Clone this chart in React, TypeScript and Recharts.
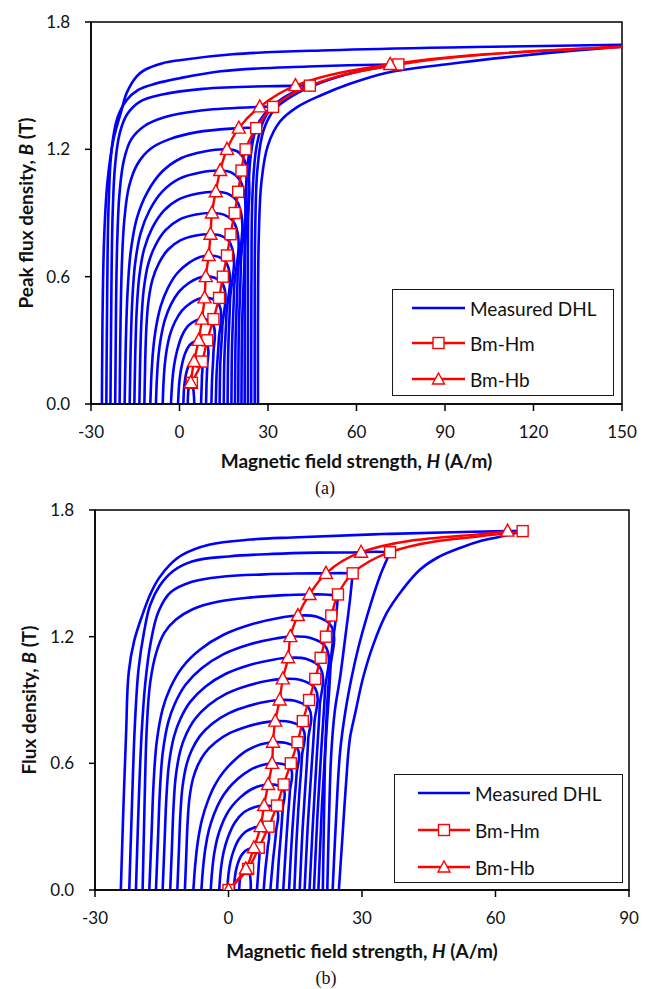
import React from 'react';
import { LineChart, Line, XAxis, YAxis, ReferenceArea } from 'recharts';

// peak flux density levels of the loops
const bmA = [0.1, 0.2, 0.3, 0.4, 0.5, 0.6, 0.7, 0.8, 0.9, 1.0, 1.1, 1.2, 1.3, 1.4, 1.5, 1.6, 1.7];
const hmA = [4.2, 7.6, 9.4, 11.5, 13.4, 14.7, 16.1, 17.3, 18.7, 19.9, 21.0, 22.4, 26.0, 31.7, 44.2, 74.2, 172];
const hbA = [3.8, 4.9, 6.5, 7.6, 8.5, 8.9, 9.9, 10.5, 11.0, 12.3, 13.8, 16.1, 20.1, 27.2, 39.3, 71.4, 168];

const bmB = [0, 0.1, 0.2, 0.3, 0.4, 0.5, 0.6, 0.7, 0.8, 0.9, 1.0, 1.1, 1.2, 1.3, 1.4, 1.5, 1.6, 1.7];
const hmB = [0, 4.4, 6.8, 9.0, 10.9, 12.4, 14.0, 15.5, 16.7, 18.1, 19.5, 20.7, 21.9, 23.1, 24.6, 27.9, 36.3, 66.1];
const hbB = [0, 3.9, 5.7, 7.2, 8.0, 8.9, 9.8, 10.0, 10.5, 11.5, 12.2, 13.4, 13.9, 15.6, 18.2, 21.9, 29.8, 62.7];

const xTicksA = [-30, 0, 30, 60, 90, 120, 150];
const xTicksB = [-30, 0, 30, 60, 90];
const yTicks = [0, 0.6, 1.2, 1.8];

// measured loops (upper half), [H, B]
const dhlA: number[][][] = [
  [[2.8,0],[2.85,0.03],[2.95,0.055],[3.1,0.075],[3.35,0.09],[3.6,0.098],[3.8,0.1],[4.05,0.098],[4.5,0.085],[4.8,0.055],[4.95,0.025],[5.0,0]],
  [[1.3,0],[1.44,0.05],[1.66,0.09],[2.0,0.126],[2.55,0.16],[3.3,0.184],[4.1,0.196],[4.9,0.2],[6.4,0.197],[7.5,0.186],[7.6,0.13],[7.45,0.06],[7.3,0]],
  [[-0.5,0],[-0.22,0.075],[0.2,0.135],[0.9,0.189],[1.95,0.24],[3.35,0.276],[4.96,0.294],[6.5,0.3],[8.1,0.296],[9.4,0.28],[9.4,0.18],[9.15,0.09],[9.0,0]],
  [[-2.9,0],[-2.48,0.1],[-1.85,0.18],[-0.8,0.252],[0.78,0.32],[2.88,0.368],[5.29,0.392],[7.6,0.4],[9.7,0.395],[11.4,0.375],[11.5,0.24],[11.05,0.12],[10.8,0]],
  [[-5.7,0],[-5.42,0.1],[-4.99,0.185],[-4.28,0.26],[-3.14,0.33],[-1.44,0.39],[0.83,0.44],[3.67,0.475],[6.37,0.495],[8.5,0.5],[11.2,0.495],[13.4,0.47],[13.3,0.3],[12.6,0.15],[12.3,0]],
  [[-8.0,0],[-7.66,0.12],[-7.16,0.222],[-6.31,0.312],[-4.96,0.396],[-2.93,0.468],[-0.23,0.528],[3.15,0.57],[6.37,0.594],[8.9,0.6],[12.1,0.594],[14.7,0.565],[14.5,0.36],[13.8,0.18],[13.6,0]],
  [[-9.9,0],[-9.5,0.14],[-8.91,0.259],[-7.92,0.364],[-6.34,0.462],[-3.96,0.546],[-0.79,0.616],[3.17,0.665],[6.93,0.693],[9.9,0.7],[13.3,0.693],[16.1,0.66],[15.9,0.42],[15.2,0.21],[15.0,0]],
  [[-11.9,0],[-11.63,0.2],[-11.23,0.36],[-10.56,0.48],[-9.21,0.584],[-6.97,0.664],[-3.84,0.728],[0.42,0.772],[5.57,0.794],[10.5,0.8],[14.2,0.792],[17.3,0.755],[17.1,0.48],[16.5,0.24],[16.3,0]],
  [[-13.6,0],[-13.3,0.225],[-12.86,0.405],[-12.12,0.54],[-10.65,0.657],[-8.19,0.747],[-4.74,0.819],[-0.07,0.869],[5.59,0.893],[11.0,0.9],[15.2,0.891],[18.7,0.85],[18.5,0.54],[17.8,0.27],[17.6,0]],
  [[-15.3,0],[-14.97,0.25],[-14.47,0.45],[-13.64,0.6],[-11.99,0.73],[-9.23,0.83],[-5.36,0.91],[-0.12,0.965],[6.23,0.992],[12.3,1.0],[16.5,0.99],[19.9,0.945],[19.7,0.6],[19.0,0.3],[18.8,0]],
  [[-16.9,0],[-16.53,0.275],[-15.98,0.495],[-15.06,0.66],[-13.22,0.803],[-10.15,0.913],[-5.85,1.001],[-0.01,1.062],[7.05,1.091],[13.8,1.1],[17.8,1.089],[21.0,1.04],[20.8,0.66],[20.1,0.33],[19.9,0]],
  [[-18.6,0],[-18.18,0.3],[-17.56,0.54],[-16.52,0.72],[-14.44,0.876],[-10.97,0.996],[-6.11,1.092],[0.49,1.158],[8.47,1.19],[16.1,1.2],[19.6,1.19],[22.4,1.135],[22.1,0.72],[21.2,0.36],[21.0,0]],
  [[-20.3,0],[-19.98,0.39],[-19.49,0.676],[-18.68,0.871],[-17.07,1.027],[-14.24,1.131],[-9.8,1.203],[-3.33,1.248],[5.96,1.281],[20.1,1.3],[23,1.302],[26.0,1.3],[24.5,1.24],[23.0,1.12],[22.4,0.9],[22.15,0.5],[22.1,0]],
  [[-21.8,0],[-21.51,0.462],[-21.07,0.784],[-20.33,0.994],[-18.86,1.148],[-16.41,1.246],[-12.0,1.309],[-5.14,1.351],[6.62,1.382],[27.2,1.4],[29.5,1.401],[31.7,1.398],[29,1.37],[26,1.3],[24,1.15],[23.3,0.9],[23.2,0.5],[23.2,0]],
  [[-23.4,0],[-23.09,0.525],[-22.65,0.9],[-21.83,1.125],[-20.27,1.275],[-17.76,1.365],[-13.37,1.425],[-5.84,1.458],[7.95,1.485],[39.3,1.5],[42,1.501],[44.2,1.5],[38,1.465],[33,1.42],[29,1.35],[26.2,1.22],[24.8,1.0],[24.4,0.6],[24.3,0]],
  [[-24.8,0],[-24.5,0.55],[-24.0,0.95],[-23.0,1.2],[-21.0,1.35],[-18,1.43],[-14,1.48],[-8,1.51],[0,1.535],[14,1.568],[43.5,1.59],[71.4,1.6],[74.2,1.6],[60,1.565],[48,1.515],[38,1.45],[32,1.385],[28.5,1.29],[26.5,1.12],[25.7,0.85],[25.5,0.45],[25.5,0]],
  [[-26.3,0],[-26.1,0.4],[-25.5,0.8],[-24.4,1.05],[-22.4,1.245],[-19.6,1.387],[-17.9,1.466],[-14.5,1.544],[-11.7,1.575],[-6,1.605],[0,1.62],[18,1.648],[51,1.667],[100,1.682],[150,1.693],[172,1.7],[150,1.684],[115,1.64],[90,1.6],[70,1.56],[58,1.51],[48,1.455],[40,1.4],[34,1.33],[30,1.22],[27.8,1.05],[26.9,0.8],[26.6,0.4],[26.6,0]],
];

const dhlB: number[][][] = [
  [[2.4,0],[2.46,0.025],[2.55,0.045],[2.7,0.063],[2.93,0.08],[3.23,0.092],[3.57,0.098],[3.9,0.1],[4.2,0.099],[4.6,0.09],[4.9,0.06],[5.0,0.03],[5.0,0]],
  [[1.2,0],[1.38,0.05],[1.65,0.09],[2.1,0.126],[2.78,0.16],[3.68,0.184],[4.71,0.196],[5.7,0.2],[6.3,0.198],[6.8,0.185],[6.8,0.12],[6.6,0.06],[6.4,0]],
  [[-0.3,0],[0.0,0.075],[0.45,0.135],[1.2,0.189],[2.33,0.24],[3.83,0.276],[5.55,0.294],[7.2,0.3],[8.2,0.298],[9.0,0.28],[8.8,0.2],[8.3,0.1],[7.9,0]],
  [[-2.1,0],[-1.7,0.1],[-1.09,0.18],[-0.08,0.252],[1.44,0.32],[3.46,0.368],[5.78,0.392],[8.0,0.4],[9.6,0.397],[10.9,0.38],[10.7,0.28],[10.0,0.14],[9.4,0]],
  [[-4.0,0],[-3.68,0.09],[-3.23,0.17],[-2.58,0.24],[-1.68,0.3],[-0.52,0.355],[0.9,0.4],[2.71,0.44],[4.77,0.4725],[6.97,0.4925],[8.9,0.5],[10.8,0.497],[12.4,0.478],[12.2,0.39],[11.8,0.27],[11.3,0.14],[10.9,0]],
  [[-6.1,0],[-5.7,0.108],[-5.15,0.204],[-4.35,0.288],[-3.24,0.36],[-1.81,0.426],[-0.06,0.48],[2.17,0.528],[4.71,0.567],[7.42,0.591],[9.8,0.6],[12.1,0.597],[14.0,0.575],[13.8,0.47],[13.3,0.33],[12.8,0.17],[12.3,0]],
  [[-7.9,0],[-7.45,0.126],[-6.83,0.238],[-5.93,0.336],[-4.68,0.42],[-3.07,0.497],[-1.1,0.56],[1.41,0.616],[4.27,0.662],[7.32,0.69],[10.0,0.7],[13.0,0.696],[15.5,0.67],[15.3,0.55],[14.7,0.39],[14.1,0.2],[13.6,0]],
  [[-9.8,0],[-9.5,0.16],[-9.19,0.32],[-8.79,0.432],[-7.97,0.528],[-6.96,0.588],[-5.33,0.648],[-2.9,0.7],[0.35,0.744],[4.41,0.776],[8.06,0.794],[10.5,0.8],[13.9,0.796],[16.7,0.765],[16.5,0.63],[15.9,0.45],[15.3,0.24],[14.8,0]],
  [[-11.5,0],[-11.16,0.18],[-10.81,0.36],[-10.35,0.486],[-9.43,0.594],[-8.28,0.662],[-6.44,0.729],[-3.68,0.788],[0,0.837],[4.6,0.873],[8.74,0.893],[11.5,0.9],[15.1,0.895],[18.1,0.86],[17.9,0.71],[17.3,0.5],[16.6,0.27],[16.0,0]],
  [[-13.1,0],[-12.72,0.2],[-12.34,0.4],[-11.84,0.54],[-10.82,0.66],[-9.56,0.735],[-7.53,0.81],[-4.5,0.875],[-0.45,0.93],[4.61,0.97],[9.16,0.992],[12.2,1.0],[16.2,0.995],[19.5,0.955],[19.3,0.79],[18.6,0.56],[17.8,0.3],[17.1,0]],
  [[-14.8,0],[-14.38,0.22],[-13.95,0.44],[-13.39,0.594],[-12.26,0.726],[-10.85,0.809],[-8.6,0.891],[-5.21,0.963],[-0.7,1.023],[4.94,1.067],[10.02,1.091],[13.4,1.1],[17.4,1.095],[20.7,1.05],[20.5,0.87],[19.8,0.62],[19.0,0.33],[18.2,0]],
  [[-16.3,0],[-15.85,0.24],[-15.39,0.48],[-14.79,0.648],[-13.58,0.792],[-12.07,0.882],[-9.66,0.972],[-6.03,1.05],[-1.2,1.116],[4.84,1.164],[10.28,1.19],[13.9,1.2],[18.3,1.195],[21.9,1.15],[21.7,0.95],[20.9,0.68],[20.0,0.36],[19.2,0]],
  [[-17.8,0],[-17.3,0.26],[-16.8,0.52],[-16.13,0.702],[-14.79,0.858],[-13.12,0.956],[-10.45,1.053],[-6.44,1.138],[-1.1,1.209],[5.58,1.261],[11.59,1.29],[15.6,1.3],[19.7,1.295],[23.1,1.25],[22.9,1.05],[22.0,0.75],[21.0,0.4],[20.2,0]],
  [[-19.3,0],[-18.85,0.42],[-18.36,0.77],[-17.61,0.98],[-16.3,1.12],[-14.43,1.218],[-11.8,1.281],[-8.05,1.33],[-2.43,1.365],[5.08,1.386],[12.58,1.397],[18.2,1.4],[21.5,1.4],[24.6,1.395],[24.2,1.3],[23.3,1.15],[22.4,0.95],[21.8,0.7],[21.5,0.4],[21.2,0]],
  [[-20.8,0],[-20.2,0.4],[-19.5,0.75],[-18.7,0.98],[-17.5,1.17],[-15.7,1.32],[-13,1.41],[-8.2,1.46],[-1,1.485],[8,1.495],[15,1.499],[21.9,1.5],[25,1.501],[27.9,1.5],[27.3,1.375],[26.2,1.19],[25.1,1.01],[23.9,0.85],[23.1,0.65],[22.6,0.35],[22.2,0]],
  [[-22.3,0],[-21.7,0.4],[-21.0,0.8],[-20.2,1.05],[-19,1.22],[-17.6,1.35],[-15.5,1.44],[-12.5,1.51],[-8.2,1.556],[0,1.58],[10,1.592],[20,1.598],[29.8,1.6],[33,1.602],[36.3,1.6],[34,1.485],[31.1,1.295],[29.2,1.15],[27.7,1.01],[26.3,0.85],[25.1,0.66],[24.2,0.35],[23.4,0]],
  [[-24.2,0],[-23.6,0.4],[-23.0,0.75],[-22.4,1.035],[-21.2,1.18],[-19.4,1.3],[-17.6,1.4],[-15.7,1.475],[-13.2,1.54],[-10.4,1.587],[-4.4,1.635],[5,1.66],[14.3,1.67],[34.5,1.686],[55,1.697],[62.7,1.7],[66.1,1.701],[62.5,1.68],[57,1.655],[52,1.62],[47,1.575],[43,1.517],[39,1.42],[35.5,1.31],[32.5,1.16],[30.3,1.01],[28.5,0.84],[27.3,0.72],[26.4,0.5],[25.6,0.25],[24.8,0]],
];

const BLUE = '#0000ff';
const RED = '#ff0000';
const FONT = 'Lato, "Open Sans", sans-serif';

// smooth parametric curve through the points (keeps sharp reversals as corners)
const smoothCurve: any = (context: any) => {
  let pts: number[][] = [];
  return {
    areaStart() {},
    areaEnd() {},
    lineStart() { pts = []; },
    point(x: number, y: number) { pts.push([+x, +y]); },
    lineEnd() {
      const n = pts.length;
      if (!n) return;
      context.moveTo(pts[0][0], pts[0][1]);
      if (n < 2) return;
      const dirs: number[][] = [];
      const lens: number[] = [];
      for (let i = 0; i < n - 1; i++) {
        const dx = pts[i + 1][0] - pts[i][0];
        const dy = pts[i + 1][1] - pts[i][1];
        const l = Math.hypot(dx, dy);
        lens.push(l);
        dirs.push(l ? [dx / l, dy / l] : [0, 0]);
      }
      const tin: number[][] = [];
      const tout: number[][] = [];
      for (let i = 0; i < n; i++) {
        if (i === 0) { tin.push(dirs[0]); tout.push(dirs[0]); continue; }
        if (i === n - 1) { tin.push(dirs[n - 2]); tout.push(dirs[n - 2]); continue; }
        const u = dirs[i - 1], v = dirs[i];
        if (u[0] * v[0] + u[1] * v[1] < 0) { tin.push(u); tout.push(v); continue; }
        const sx = u[0] + v[0], sy = u[1] + v[1];
        const sl = Math.hypot(sx, sy) || 1;
        tin.push([sx / sl, sy / sl]);
        tout.push([sx / sl, sy / sl]);
      }
      for (let i = 0; i < n - 1; i++) {
        const p = pts[i], q = pts[i + 1], d = lens[i] / 3;
        context.bezierCurveTo(
          p[0] + tout[i][0] * d, p[1] + tout[i][1] * d,
          q[0] - tin[i + 1][0] * d, q[1] - tin[i + 1][1] * d,
          q[0], q[1]
        );
      }
    },
  };
};

const toPts = (pairs: number[][]) => pairs.map(([h, b]) => ({ h, b }));
const redPts = (hs: number[], bs: number[]) => hs.map((h, i) => ({ h, b: bs[i] }));

const SquareDot = (p: any) => {
  if (p.cx == null || p.cy == null) return <g key={p.key} />;
  return <rect key={p.key} x={p.cx - 5.5} y={p.cy - 5.5} width={11} height={11} fill="#fff" stroke={RED} strokeWidth={1.4} />;
};
const TriangleDot = (p: any) => {
  if (p.cx == null || p.cy == null) return <g key={p.key} />;
  return (
    <polygon
      key={p.key}
      points={`${p.cx},${p.cy - 7} ${p.cx + 6.5},${p.cy + 5} ${p.cx - 6.5},${p.cy + 5}`}
      fill="#fff"
      stroke={RED}
      strokeWidth={1.4}
    />
  );
};

const tickStyle = { fontFamily: FONT, fontSize: 17, fill: '#111' };
const axisStroke = { stroke: '#000', strokeWidth: 1.5 };

function Panel(props: any) {
  const { loops, hm, hb, bm, xTicks, xDomain, width, height, margin } = props;
  return (
    <LineChart width={width} height={height} margin={margin}>
      <XAxis
        type="number"
        dataKey="h"
        domain={xDomain}
        ticks={xTicks}
        interval={0}
        allowDataOverflow
        height={30}
        tickSize={7}
        tickMargin={15}
        tick={tickStyle}
        axisLine={axisStroke}
        tickLine={axisStroke}
      />
      <YAxis
        type="number"
        domain={[0, 1.8]}
        ticks={yTicks}
        interval={0}
        allowDataOverflow
        width={60}
        tickSize={6}
        tickMargin={15}
        tick={tickStyle}
        tickFormatter={(v: number) => v.toFixed(1)}
        axisLine={axisStroke}
        tickLine={axisStroke}
      />
      {loops.map((loop: number[][], i: number) => (
        <Line
          key={`dhl-${i}`}
          data={toPts(loop)}
          dataKey="b"
          type={smoothCurve}
          stroke={BLUE}
          strokeWidth={2.6}
          dot={false}
          activeDot={false}
          isAnimationActive={false}
        />
      ))}
      <Line
        data={redPts(hm, bm)}
        dataKey="b"
        type={smoothCurve}
        stroke={RED}
        strokeWidth={2.4}
        dot={SquareDot}
        activeDot={false}
        isAnimationActive={false}
      />
      <Line
        data={redPts(hb, bm)}
        dataKey="b"
        type={smoothCurve}
        stroke={RED}
        strokeWidth={2.4}
        dot={TriangleDot}
        activeDot={false}
        isAnimationActive={false}
      />
      <ReferenceArea
        x1={xDomain[0]}
        x2={xDomain[1]}
        y1={0}
        y2={1.8}
        fill="none"
        fillOpacity={0}
        stroke="#000"
        strokeWidth={1.5}
        ifOverflow="visible"
      />
    </LineChart>
  );
}

function LegendBox({ left, top, width, height, rows, lineX, lineW, textX }: any) {
  const items = [
    { label: 'Measured DHL', color: BLUE, marker: null },
    { label: 'Bm-Hm', color: RED, marker: 'square' },
    { label: 'Bm-Hb', color: RED, marker: 'triangle' },
  ];
  return (
    <div
      style={{
        position: 'absolute', left, top, width, height, boxSizing: 'border-box',
        border: '1.5px solid #1a1a1a', background: '#fff',
      }}
    >
      {items.map((it, i) => (
        <React.Fragment key={it.label}>
          <svg style={{ position: 'absolute', left: lineX, top: rows[i] - 9 }} width={lineW} height={18}>
            <line x1={0} y1={9} x2={lineW} y2={9} stroke={it.color} strokeWidth={2.6} />
            {it.marker === 'square' && (
              <rect x={lineW / 2 - 5.5} y={3.5} width={11} height={11} fill="#fff" stroke={RED} strokeWidth={1.4} />
            )}
            {it.marker === 'triangle' && (
              <polygon points={`${lineW / 2},${3} ${lineW / 2 + 6},${14} ${lineW / 2 - 6},${14}`} fill="#fff" stroke={RED} strokeWidth={1.4} />
            )}
          </svg>
          <div
            style={{
              position: 'absolute', left: textX, top: rows[i], transform: 'translateY(-50%)',
              fontFamily: FONT, fontSize: 19, color: '#111', whiteSpace: 'nowrap', lineHeight: 1,
            }}
          >
            {it.label}
          </div>
        </React.Fragment>
      ))}
    </div>
  );
}

const titleStyle: any = {
  position: 'absolute', fontFamily: FONT, fontWeight: 700, fontSize: 19, color: '#111',
  whiteSpace: 'nowrap', lineHeight: 1,
};
const captionStyle: any = {
  position: 'absolute', fontFamily: '"Liberation Serif", "Times New Roman", serif', fontSize: 18,
  color: '#111', transform: 'translate(-50%, -50%)', lineHeight: 1,
};

export default function App() {
  return (
    <div style={{ position: 'relative', width: 635, height: 981, background: '#fff' }}>
      <div style={{ position: 'absolute', left: 0, top: 0 }}>
        <Panel
          loops={dhlA} hm={hmA} hb={hbA} bm={bmA}
          xTicks={xTicksA} xDomain={[-30, 150]}
          width={635} height={440}
          margin={{ top: 14, right: 21, bottom: 14, left: 23 }}
        />
      </div>
      <LegendBox left={384} top={281} width={222} height={107} rows={[18, 53, 89]} lineX={19} lineW={53} textX={77} />
      <div style={{ ...titleStyle, left: 348.5, top: 452, transform: 'translate(-50%, -50%)' }}>
        Magnetic field strength, <i>H</i> (A/m)
      </div>
      <div style={{ ...titleStyle, left: 17, top: 205, transform: 'translate(-50%, -50%) rotate(-90deg)' }}>
        Peak flux density, <i>B</i> (T)
      </div>
      <div style={{ ...captionStyle, left: 317, top: 480 }}>(a)</div>

      <div style={{ position: 'absolute', left: 0, top: 490 }}>
        <Panel
          loops={dhlB} hm={hmB} hb={hbB} bm={bmB}
          xTicks={xTicksB} xDomain={[-30, 90]}
          width={635} height={436}
          margin={{ top: 12, right: 14, bottom: 14, left: 27 }}
        />
      </div>
      <LegendBox left={386} top={766} width={229} height={109} rows={[18, 55, 92]} lineX={23} lineW={52} textX={80} />
      <div style={{ ...titleStyle, left: 354, top: 942, transform: 'translate(-50%, -50%)' }}>
        Magnetic field strength, <i>H</i> (A/m)
      </div>
      <div style={{ ...titleStyle, left: 20, top: 692, transform: 'translate(-50%, -50%) rotate(-90deg)' }}>
        Flux density, <i>B</i> (T)
      </div>
      <div style={{ ...captionStyle, left: 318, top: 970 }}>(b)</div>
    </div>
  );
}
